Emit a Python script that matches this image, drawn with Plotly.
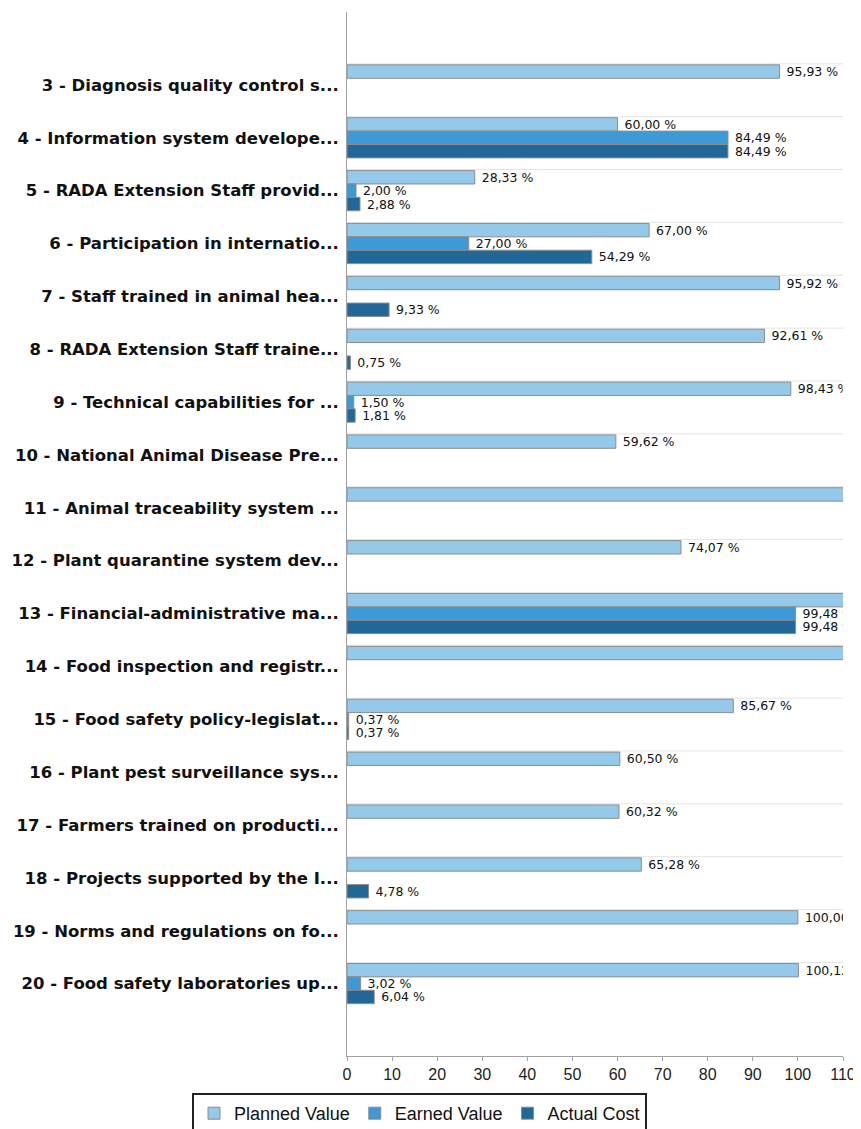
import plotly.graph_objects as go

categories = [
    "3 - Diagnosis quality control s...",
    "4 - Information system develope...",
    "5 - RADA Extension Staff provid...",
    "6 - Participation in internatio...",
    "7 - Staff trained in animal hea...",
    "8 - RADA Extension Staff traine...",
    "9 - Technical capabilities for ...",
    "10 - National Animal Disease Pre...",
    "11 - Animal traceability system ...",
    "12 - Plant quarantine system dev...",
    "13 - Financial-administrative ma...",
    "14 - Food inspection and registr...",
    "15 - Food safety policy-legislat...",
    "16 - Plant pest surveillance sys...",
    "17 - Farmers trained on producti...",
    "18 - Projects supported by the I...",
    "19 - Norms and regulations on fo...",
    "20 - Food safety laboratories up...",
]

planned_value = [95.93, 60.00, 28.33, 67.00, 95.92, 92.61, 98.43, 59.62, 120.0,
                 74.07, 120.0, 120.0, 85.67, 60.50, 60.32, 65.28, 100.00, 100.12]
earned_value = [None, 84.49, 2.00, 27.00, None, None, 1.50, None, None,
                None, 99.48, None, 0.37, None, None, None, None, 3.02]
actual_cost = [None, 84.49, 2.88, 54.29, 9.33, 0.75, 1.81, None, None,
               None, 99.48, None, 0.37, None, None, 4.78, None, 6.04]

series_names = ["Planned Value", "Earned Value", "Actual Cost"]
series_colors = ["#94c9ea", "#3d9ad6", "#216898"]
series_values = [planned_value, earned_value, actual_cost]

X_MAX = 110
BARGAP = 0.24

# the page body adds an 8px margin around the figure
FIG_W, FIG_H = 853, 1121

fig = go.Figure()
for name, color, vals in zip(series_names, series_colors, series_values):
    templates = ["\u00a0%{x:.2f} %" if (v is not None and v < X_MAX) else "" for v in vals]
    fig.add_trace(go.Bar(
        name=name,
        y=categories,
        x=vals,
        orientation="h",
        marker=dict(color=color, line=dict(color="#8c8c8c", width=1)),
        texttemplate=templates,
        textposition="outside",
        constraintext="none",
        cliponaxis=True,
        textfont=dict(family="DejaVu Sans", size=12.5, color="#111111"),
        hoverinfo="x+y+name",
    ))

# light separators at the top edge of each bar group
shapes = []
half = (1 - BARGAP) / 2
for i, _ in enumerate(categories):
    shapes.append(dict(
        type="line", xref="paper", yref="y",
        x0=0, x1=1, y0=i - half - 0.02, y1=i - half - 0.02,
        line=dict(color="#e3e3e3", width=1), layer="below",
    ))

n = len(categories)
fig.update_layout(
    width=FIG_W, height=FIG_H,
    margin=dict(l=339, r=18, t=4, b=73, autoexpand=False),
    paper_bgcolor="white", plot_bgcolor="white",
    barmode="group", bargap=BARGAP, bargroupgap=0,
    separators=", ",
    shapes=shapes,
    showlegend=True,
    legend=dict(
        orientation="h",
        xref="container", x=184 / FIG_W, xanchor="left",
        yref="container", y=(FIG_H - 1085) / FIG_H, yanchor="top",
        bgcolor="white", bordercolor="#222222", borderwidth=2,
        font=dict(family="Liberation Sans", size=18, color="#111111"),
        traceorder="normal", itemwidth=30,
    ),
    xaxis=dict(
        range=[0, X_MAX], dtick=10, tick0=0,
        showgrid=False, zeroline=False, automargin=False,
        showline=True, linecolor="#a0a0a0", linewidth=1,
        ticks="outside", ticklen=4, tickcolor="#a0a0a0",
        tickfont=dict(family="Liberation Sans", size=16, color="#222222"),
    ),
    yaxis=dict(
        type="category",
        categoryorder="array", categoryarray=categories,
        range=[n - 1 + 1.37, -1.38],
        showgrid=False, zeroline=False, automargin=False,
        showline=True, linecolor="#a0a0a0", linewidth=1,
        ticks="", ticklabelstandoff=4,
        tickfont=dict(family="DejaVu Sans", size=16.5, color="#111111", weight="bold"),
    ),
)

fig.write_html("out.html")
